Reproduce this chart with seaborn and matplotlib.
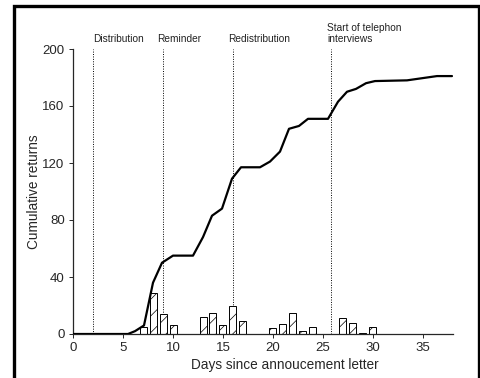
import matplotlib
matplotlib.use("Agg")
import matplotlib.pyplot as plt
import matplotlib.patches as mpatches
import seaborn as sns
import pandas as pd

# Cumulative returns (line)
line_days = [0, 5.5, 6.2, 7.1, 8.0, 8.9, 10.0, 12.0, 13.0, 13.9, 14.9, 15.9, 16.8, 18.7,
             19.7, 20.7, 21.6, 22.6, 23.5, 25.5, 26.5, 27.4, 28.3, 29.3, 30.2, 33.4, 36.4, 37.9]
line_values = [0, 0, 2, 6, 36, 50, 55, 55, 68, 83, 88, 109, 117, 117,
               121, 128, 144, 146, 151, 151, 163, 170, 172, 176, 177.5, 178, 181, 181]

# Daily returns (bars)
bar_days = [7, 8, 9, 10, 13, 14, 15, 16, 17, 20, 21, 22, 23, 24, 27, 28, 29, 30,
            31, 32, 33, 34, 35, 36, 37]
bar_values = [5, 29, 14, 6, 12, 15, 6, 20, 9, 4, 7, 15, 2, 5, 11, 8, 1, 5,
              0.3, 0.3, 0.3, 0.3, 0.3, 0.3, 0.3]

# Events
event_days = [2, 9, 16, 25.8]
event_labels = ["Distribution", "Reminder", "Redistribution", "Start of telephon\ninterviews"]
event_label_x = [2.0, 8.4, 15.5, 25.4]

x_ticks = [0, 5, 10, 15, 20, 25, 30, 35]
y_ticks = [0, 40, 80, 120, 160, 200]

sns.set_style("ticks")
plt.rcParams["font.family"] = ["Liberation Sans", "DejaVu Sans"]
plt.rcParams["hatch.linewidth"] = 0.5

fig = plt.figure(figsize=(4.81, 3.78), dpi=100)
ax = fig.add_axes([73 / 481, 1 - 334 / 378, (453 - 73) / 481, (334 - 49) / 378])

ax.bar(bar_days, bar_values, width=0.7, color="white", edgecolor="black",
       linewidth=0.7, hatch="//", zorder=2)

df = pd.DataFrame({"day": line_days, "cum": line_values})
sns.lineplot(data=df, x="day", y="cum", ax=ax, color="black", linewidth=1.6,
             zorder=3, estimator=None, sort=False)

for d in event_days:
    ax.axvline(d, ymin=0, ymax=1, color="black", linestyle=(0, (1, 1.5)),
               linewidth=0.7, zorder=1)

for lx, lab in zip(event_label_x, event_labels):
    ax.text(lx, 203.5, lab, fontsize=7.3, ha="left", va="bottom", color="#222222",
            linespacing=1.15)

ax.set_xlim(0, 38)
ax.set_ylim(0, 200)
ax.set_xticks(x_ticks)
ax.set_yticks(y_ticks)
ax.tick_params(axis="both", labelsize=9.5, length=3, width=0.7, direction="out", pad=3)
ax.set_xlabel("Days since annoucement letter", fontsize=9.8, labelpad=3)
ax.xaxis.set_label_coords((285 - 73) / 380, -0.085)
ax.set_ylabel("Cumulative returns", fontsize=9.8)
ax.yaxis.set_label_coords(-0.085, 0.5)
sns.despine(ax=ax, top=True, right=True)
for s in ["left", "bottom"]:
    ax.spines[s].set_linewidth(0.9)

frame = mpatches.Rectangle((14 / 481, -0.1), (479 - 14) / 481, 1.1 - 6 / 378,
                           transform=fig.transFigure, fill=False,
                           edgecolor="black", linewidth=2.4, clip_on=False)
fig.patches.append(frame)

fig.savefig("out.png", dpi=100)
